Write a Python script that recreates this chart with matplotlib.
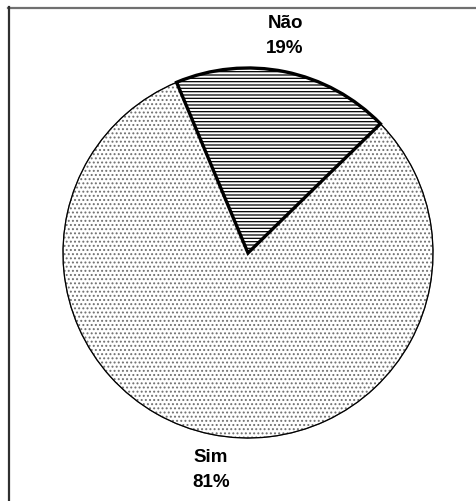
import matplotlib
matplotlib.use("Agg")
import matplotlib.pyplot as plt
from matplotlib.lines import Line2D
from matplotlib.patches import Wedge
import numpy as np

categories = ["Não", "Sim"]
values = [19, 81]
pct_labels = ["19%", "81%"]

W, H = 476, 501
fig = plt.figure(figsize=(W / 100, H / 100), dpi=100)
ax = fig.add_axes([0, 0, 1, 1])

plt.rcParams["hatch.linewidth"] = 0.9
labels = [f"{c}\n{p}" for c, p in zip(categories, pct_labels)]
wedges, texts = ax.pie(values, labels=labels, startangle=44.3, counterclock=True,
                       center=(248, H - 253), radius=185, labeldistance=1.19,
                       textprops=dict(fontsize=13.5, fontweight="bold",
                                      family=["Liberation Sans", "DejaVu Sans"],
                                      ha="center", va="center", linespacing=1.55),
                       frame=True)
ax.set_xlim(0, W)
ax.set_ylim(0, H)
ax.set_aspect("equal")
ax.axis("off")

# nudge labels slightly counter-clockwise around the centre
for w, t in zip(wedges, texts):
    ang = np.deg2rad((w.theta1 + w.theta2) / 2 + 1.8)
    cx, cy = w.center
    t.set_position((cx + 1.19 * w.r * np.cos(ang), cy + 1.19 * w.r * np.sin(ang)))

styles = [dict(hatch="-----", edgecolor="black", linewidth=2.4, zorder=3),
          dict(hatch="....", edgecolor="#707070", linewidth=0.8, zorder=2)]
for w, s in zip(wedges, styles):
    w.set_facecolor("white")
    w.set_hatch(s["hatch"])
    w.set_edgecolor(s["edgecolor"])
    w.set_linewidth(s["linewidth"])
    w.set_zorder(s["zorder"])

# outline for Sim wedge in black (hatch stays gray)
sw = wedges[1]
ax.add_patch(Wedge(sw.center, sw.r, sw.theta1, sw.theta2, facecolor="none",
                   edgecolor="black", linewidth=0.9, zorder=2.5))

# frame lines (top and left only)
fig.add_artist(Line2D([8 / W, 1], [1 - 7.5 / H, 1 - 7.5 / H], color="#707070",
                      linewidth=1.6, transform=fig.transFigure))
fig.add_artist(Line2D([8.5 / W, 8.5 / W], [0, 1 - 7 / H], color="#303030",
                      linewidth=1.6, transform=fig.transFigure))

fig.savefig("out.png", dpi=100)
